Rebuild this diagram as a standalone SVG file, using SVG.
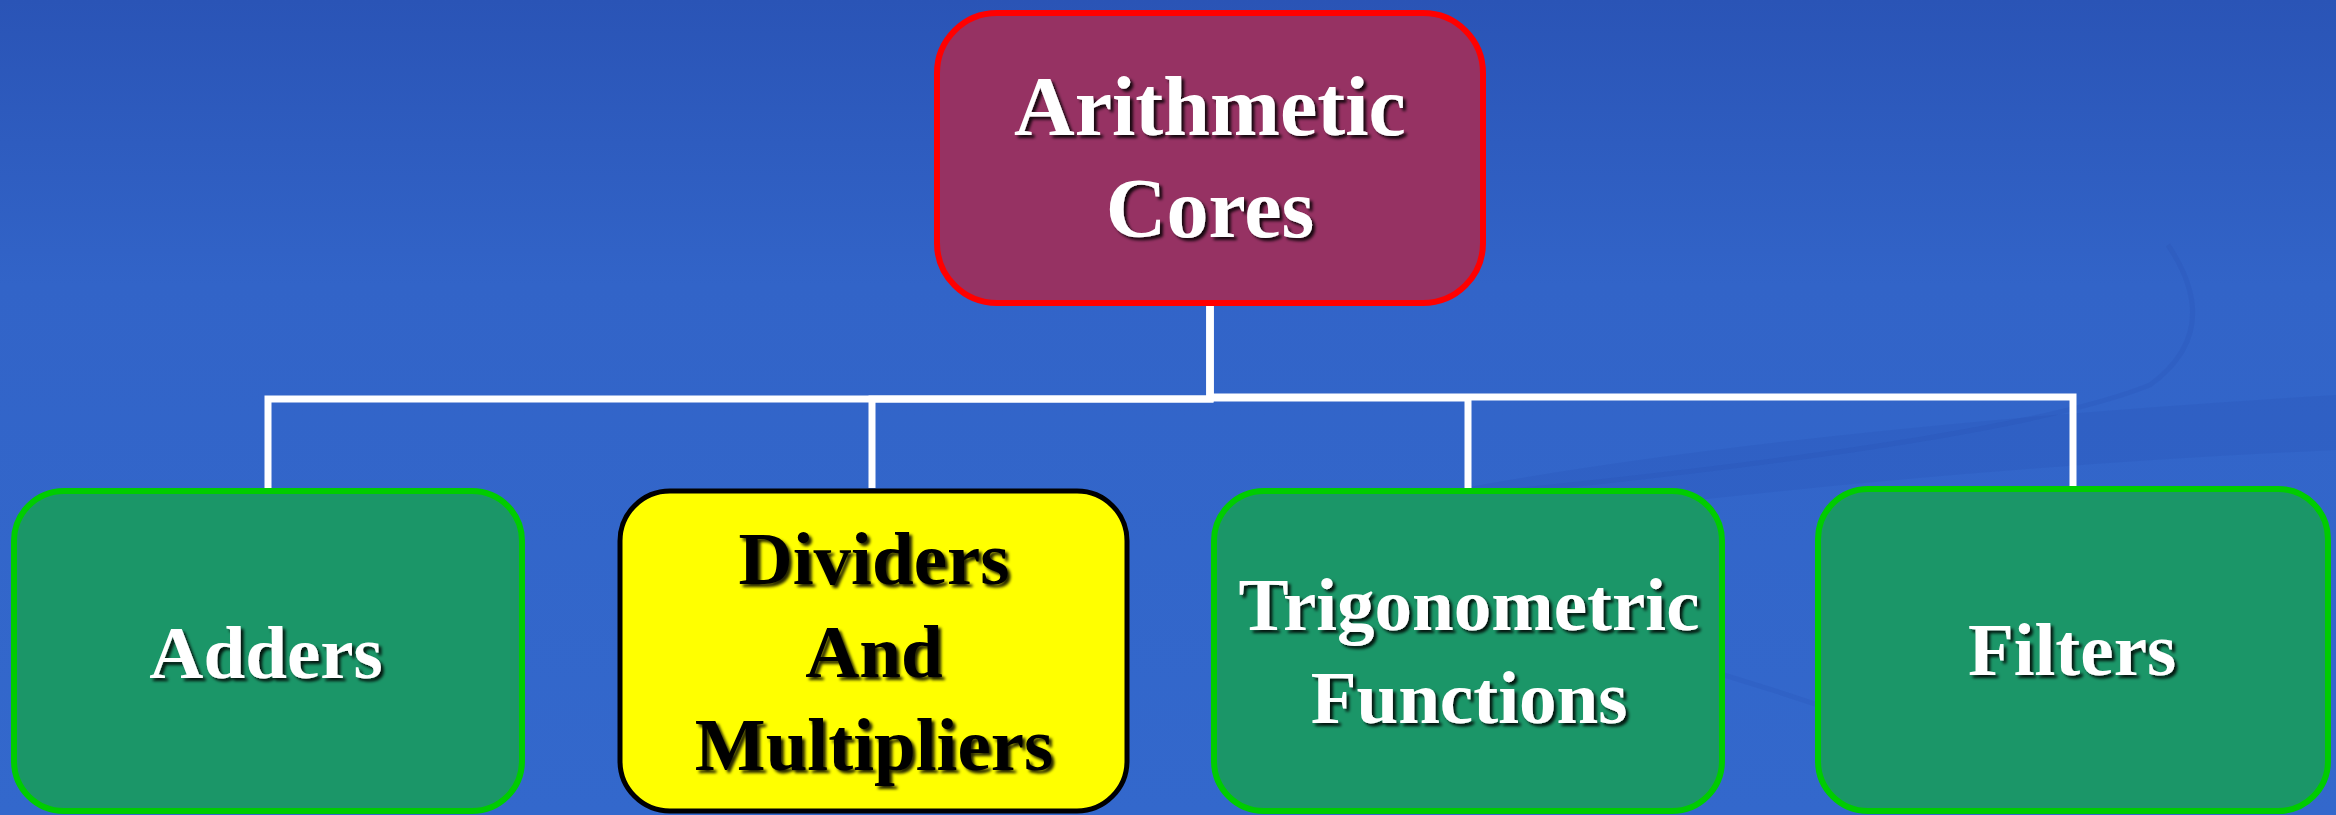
<svg xmlns="http://www.w3.org/2000/svg" width="2336" height="815" viewBox="0 0 2336 815">
  <defs>
    <linearGradient id="bg" x1="0" y1="0" x2="0" y2="1">
      <stop offset="0" stop-color="#2a54b6"/>
      <stop offset="0.35" stop-color="#3264c8"/>
      <stop offset="1" stop-color="#3368cc"/>
    </linearGradient>
    <filter id="shadow" x="-10%" y="-20%" width="130%" height="150%">
      <feDropShadow dx="3" dy="3" stdDeviation="1.5" flood-color="#000" flood-opacity="0.85"/>
    </filter>
  </defs>
  <style>
    .label { font-family: "Liberation Serif", "Times New Roman", serif; font-weight: bold; text-anchor: middle; filter: url(#shadow); }
    .white { fill: #ffffff; }
    .black { fill: #000000; }
    .big { font-size: 84px; }
    .mid { font-size: 75px; }
    .green { fill: #1b9668; stroke: #00cc00; stroke-width: 6; }
    .conn { fill: none; stroke: #ffffff; stroke-width: 7; stroke-linejoin: miter; }
    .swoosh { fill: #1e3f9a; opacity: 0.1; }
    .swline { fill: none; stroke: #1e3f9a; stroke-width: 5; opacity: 0.1; }
  </style>

  <rect x="0" y="0" width="2336" height="815" fill="url(#bg)"/>

  <g id="background-swoosh">
    <path class="swoosh" d="M1400 500 Q1750 430 2336 395 L2336 450 Q1900 470 1450 530 Z"/>
    <path class="swline" d="M2168 245 Q2225 330 2150 385 Q2000 445 1420 500"/>
    <path class="swline" d="M1560 630 Q1760 680 1930 745"/>
  </g>

  <g id="connectors">
    <path class="conn" d="M1210 305 V399 H268 V488"/>
    <path class="conn" d="M1210 305 V399 H872 V488"/>
    <path class="conn" d="M1210 305 V398 H1468 V488"/>
    <path class="conn" d="M1210 305 V397 H2073 V486"/>
  </g>

  <g id="arithmetic-cores">
    <rect x="937" y="13" width="546" height="290" rx="60" ry="60" fill="#963263" stroke="#ff0000" stroke-width="6"/>
    <text class="label white big" x="1210" y="135">Arithmetic</text>
    <text class="label white big" x="1210" y="237">Cores</text>
  </g>

  <g id="adders">
    <rect class="green" x="14" y="491" width="508" height="320" rx="50" ry="50"/>
    <text class="label white mid" x="266" y="678">Adders</text>
  </g>

  <g id="dividers-multipliers">
    <rect x="620" y="491" width="507" height="320" rx="50" ry="50" fill="#ffff00" stroke="#000000" stroke-width="5"/>
    <text class="label black mid" x="874" y="584">Dividers</text>
    <text class="label black mid" x="874" y="677">And</text>
    <text class="label black mid" x="874" y="770">Multipliers</text>
  </g>

  <g id="trigonometric-functions">
    <rect class="green" x="1214" y="491" width="508" height="320" rx="50" ry="50"/>
    <text class="label white mid" x="1469" y="630">Trigonometric</text>
    <text class="label white mid" x="1469" y="723">Functions</text>
  </g>

  <g id="filters">
    <rect class="green" x="1818" y="489" width="510" height="322" rx="50" ry="50"/>
    <text class="label white mid" x="2072" y="675">Filters</text>
  </g>
</svg>
